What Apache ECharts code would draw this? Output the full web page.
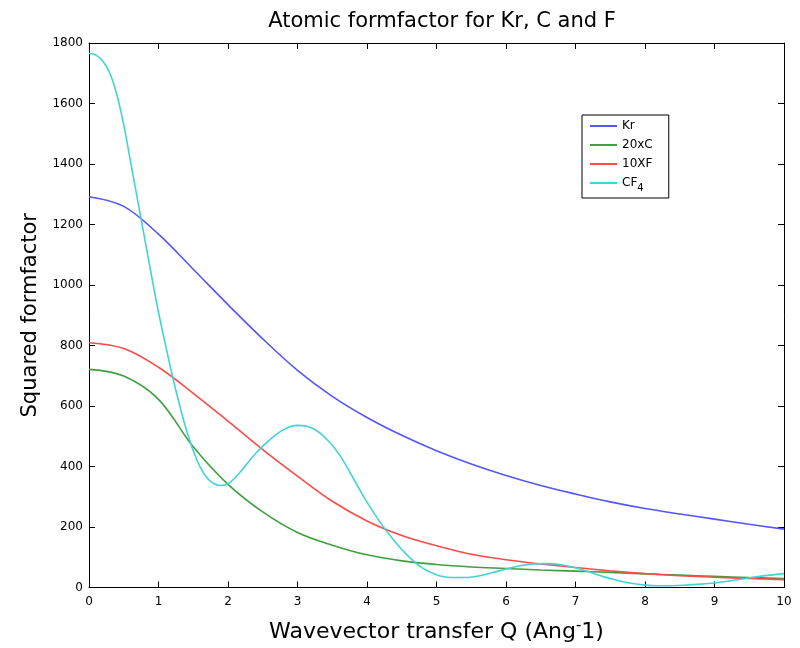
<!DOCTYPE html>
<html>
<head>
<meta charset="utf-8">
<script src="https://cdn.jsdelivr.net/npm/echarts@6/dist/echarts.min.js"></script>
<style>html,body{margin:0;padding:0;background:#fff;}#c{width:800px;height:648px;}</style>
</head>
<body>
<div id="c"></div>
<script>
// Data
var qGrid = [0,0.5,1,1.5,2,2.5,3,3.5,4,4.5,5,5.5,6,6.5,7,7.5,8,8.5,9,9.5,10];
var kr   = [1292,1260,1168,1052,935,822,718,632,562,503,452,408,370,337,309,283,261,243,226,209,193];
var c20  = [721,699,622,465,341,250,182,140,108,88,76,68,63,58,54,50,45,41,37,33,30];
var f10  = [809,790,728,642,550,456,368,285,220,172,138,110,92,78,66,55,46,39,34,30,26];
var qCF4 = [0,0.1,0.2,0.3,0.4,0.5,0.6,0.7,0.8,0.9,1.0,1.1,1.2,1.3,1.4,1.5,1.6,1.7,1.8,1.9,2.0,2.1,2.2,2.4,2.6,2.8,3.0,3.2,3.4,3.6,3.8,4.0,4.2,4.4,4.6,4.8,5.0,5.2,5.4,5.6,5.8,6.0,6.2,6.4,6.6,6.8,7.0,7.2,7.4,7.6,7.8,8.0,8.2,8.4,8.6,8.8,9.0,9.2,9.4,9.6,9.8,10];
var cf4  = [1766,1760,1740,1700,1630,1530,1405,1280,1155,1030,910,802,700,606,522,452,398,362,343,337,343,362,388,444,488,522,536,528,495,440,362,282,212,152,102,64,42,33,33,38,49,61,72,78,79,75,65,51,36,24,14,8,6,6,8,11,15,21,28,35,41,46];
var seriesNames = ['Kr','20xC','10XF','CF4'];

function pairs(xs, ys){ return xs.map(function(x,i){ return [x, ys[i]]; }); }

var colors = ['#5555ff','#40a040','#ff4a4a','#40d4d4'];
var dfont = 'DejaVu Sans, sans-serif';

var chart = echarts.init(document.getElementById('c'), null, {renderer:'canvas'});
function axisCommon(){
  return {
    axisLine:{show:true, onZero:false, lineStyle:{color:'#000', width:1}},
    axisTick:{show:true, inside:true, length:6, lineStyle:{color:'#000'}},
    splitLine:{show:false}
  };
}
var labelStyle = {fontFamily:dfont, fontSize:12, color:'#000', formatter:function(v){ return String(v); }};
function lineSeries(name, data, color){
  return {name:name, type:'line', data:data, smooth:0.35, symbol:'none',
    lineStyle:{width:1.6, color:color}, itemStyle:{color:color}};
}
chart.setOption({
  backgroundColor:'#fff',
  animation:false,
  title:{
    text:'Atomic formfactor for Kr, C and F',
    left:437, top:6, textAlign:'center',
    textStyle:{fontFamily:dfont, fontSize:21, fontWeight:'normal', color:'#000'}
  },
  grid:{left:89, right:16, top:43, bottom:58},
  legend:{
    orient:'vertical', left:582, top:115,
    backgroundColor:'#fff', borderColor:'#000', borderWidth:1,
    padding:[4,16,5,8], itemGap:5, itemWidth:27, itemHeight:2, icon:'rect',
    data:seriesNames,
    formatter:function(n){ return n === 'CF4' ? 'CF{sub|4}' : n; },
    textStyle:{fontFamily:dfont, fontSize:12, color:'#000', lineHeight:14,
      rich:{sub:{fontSize:10, fontFamily:dfont, color:'#000', padding:[10,0,0,0]}}}
  },
  xAxis:[
    Object.assign({type:'value', position:'bottom', min:0, max:10, interval:1,
      name:'Wavevector transfer Q (Ang{sup|-}1)', nameLocation:'middle', nameGap:31,
      nameTextStyle:{fontFamily:dfont, fontSize:22, color:'#000',
        rich:{sup:{fontSize:15, fontFamily:dfont, color:'#000', padding:[0,0,12,0]}}},
      axisLabel:Object.assign({margin:8}, labelStyle)}, axisCommon()),
    Object.assign({type:'value', position:'top', min:0, max:10, interval:1,
      axisLabel:{show:false}}, axisCommon())
  ],
  yAxis:[
    Object.assign({type:'value', position:'left', min:0, max:1800, interval:200,
      name:'Squared formfactor', nameLocation:'middle', nameGap:48,
      nameTextStyle:{fontFamily:dfont, fontSize:21, color:'#000'},
      axisLabel:Object.assign({margin:6}, labelStyle)}, axisCommon()),
    Object.assign({type:'value', position:'right', min:0, max:1800, interval:200,
      axisLabel:{show:false}}, axisCommon())
  ],
  series:[
    lineSeries('Kr', pairs(qGrid, kr), colors[0]),
    lineSeries('20xC', pairs(qGrid, c20), colors[1]),
    lineSeries('10XF', pairs(qGrid, f10), colors[2]),
    lineSeries('CF4', pairs(qCF4, cf4), colors[3])
  ]
});
</script>
</body>
</html>
